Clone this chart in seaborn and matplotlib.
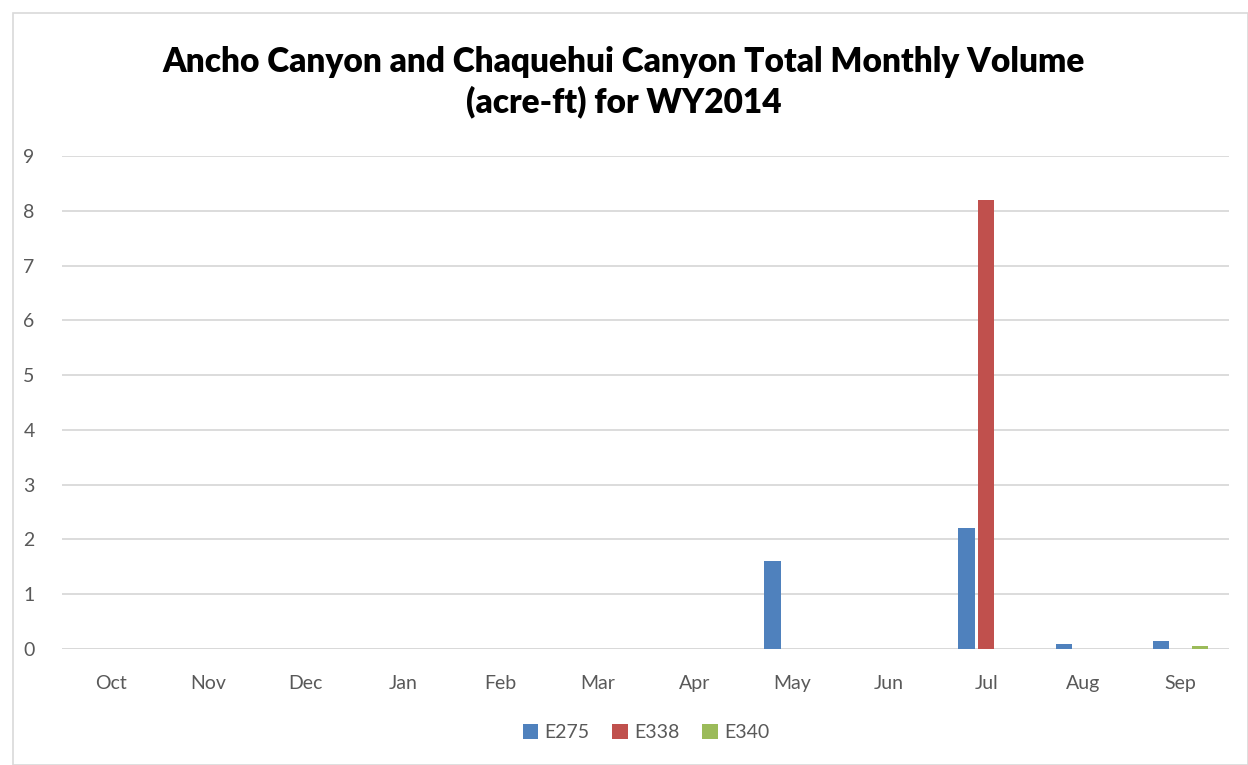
import matplotlib
matplotlib.use("Agg")
import matplotlib.pyplot as plt
import pandas as pd
import seaborn as sns
from matplotlib.patches import Rectangle

months = ["Oct", "Nov", "Dec", "Jan", "Feb", "Mar", "Apr", "May", "Jun", "Jul", "Aug", "Sep"]
e275 = [0, 0, 0, 0, 0, 0, 0, 1.6, 0, 2.2, 0.08, 0.15]
e338 = [0, 0, 0, 0, 0, 0, 0, 0, 0, 8.2, 0, 0]
e340 = [0, 0, 0, 0, 0, 0, 0, 0, 0, 0, 0, 0.05]
stations = ["E275", "E338", "E340"]
colors = ["#4f81bd", "#c0504d", "#9bbb59"]

df = pd.DataFrame({"month": months, "E275": e275, "E338": e338, "E340": e340})
long = df.melt(id_vars="month", var_name="station", value_name="volume")

sns.set_theme(style="white")
plt.rcParams["font.family"] = ["Lato", "DejaVu Sans"]

fig = plt.figure(figsize=(12.48, 7.65), dpi=100)
ax = fig.add_axes([0.05, 0.152, 0.935, 0.644])

sns.barplot(data=long, x="month", y="volume", hue="station", order=months,
            hue_order=stations, palette=colors, width=0.6, gap=0.15,
            linewidth=0, saturation=1, ax=ax)

ax.set_ylim(0, 9)
ax.set_yticks(range(0, 10))
ax.yaxis.grid(True, color="#d9d9d9", linewidth=1.3)
ax.set_axisbelow(True)
for side in ["top", "right", "left", "bottom"]:
    ax.spines[side].set_visible(False)
ax.axhline(0, color="#d9d9d9", linewidth=1.3, zorder=0)
ax.set_xlabel("")
ax.set_ylabel("")
ax.tick_params(axis="both", length=0, labelsize=14, labelcolor="#595959")
ax.tick_params(axis="y", pad=20)
ax.tick_params(axis="x", pad=19)

fig.suptitle("Ancho Canyon and Chaquehui Canyon Total Monthly Volume\n(acre-ft) for WY2014",
             fontsize=24, fontweight="heavy", color="black", y=0.94, linespacing=1.3)

sns.move_legend(ax, "center", bbox_to_anchor=(0.5, -0.131 - 0.0), ncol=3, frameon=False,
                title=None, fontsize=14, handlelength=0.8, handleheight=0.8,
                handletextpad=0.3, columnspacing=1.2, labelcolor="#595959")
leg = ax.get_legend()
leg.set_bbox_to_anchor((0.5, -0.17), transform=ax.transAxes)

fig.patches.append(Rectangle((13 / 1248, 0), 1 - 13 / 1248, 1 - 13 / 765,
                             transform=fig.transFigure, fill=False,
                             edgecolor="#d9d9d9", linewidth=1.2))

fig.savefig("out.png", dpi=100)
